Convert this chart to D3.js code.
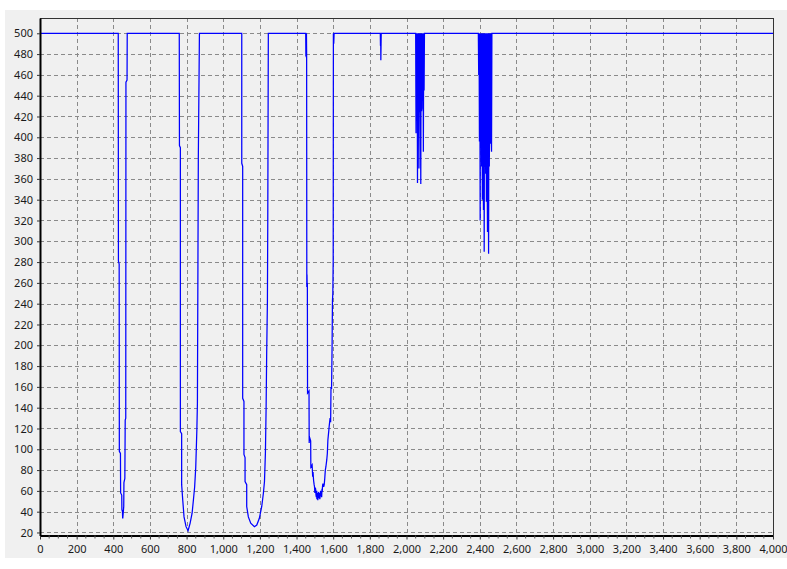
<!DOCTYPE html>
<html><head><meta charset="utf-8">
<script src="https://cdn.jsdelivr.net/npm/d3@7"></script>
<style>
html,body{margin:0;padding:0;background:#fff;}
svg{display:block;}
text{font-family:"Noto Sans","DejaVu Sans",sans-serif;font-size:11px;fill:#1a1a1a;}
</style></head>
<body>
<script>
// ---- data ----
const xValues = [
  0, 427, 428, 432, 433, 439, 440, 446, 447, 450, 451, 452, 457, 458, 463, 465, 468, 469, 475, 476,
  760, 761, 766, 766, 773, 773, 779, 786, 797, 808, 819, 830, 837, 844, 850, 856, 859, 864, 870,
  1101, 1101, 1106, 1106, 1113, 1113, 1119, 1119, 1128, 1128, 1137, 1150, 1170, 1183, 1197, 1210, 1219, 1225, 1230, 1234, 1237, 1241, 1243, 1246,
  1450, 1451, 1452, 1453, 1454, 1455, 1456, 1457, 1458, 1459,
  1460, 1468, 1469, 1470, 1477, 1478, 1485, 1488, 1490, 1493,
  1496, 1498, 1500, 1502, 1504, 1506, 1508, 1510, 1511, 1513,
  1514, 1516, 1518, 1520, 1522, 1524, 1525, 1527, 1529, 1531,
  1533, 1535, 1537, 1539, 1540, 1542, 1544, 1548, 1551, 1554,
  1557, 1560, 1565, 1568, 1571, 1576, 1578, 1583, 1586, 1588,
  1591, 1594, 1596, 1598, 1600, 1601, 1603, 1605, 1610,
  1857, 1858, 1859, 1860, 1862,
  2050, 2052, 2054, 2056, 2058, 2060, 2062, 2064, 2066, 2068, 2070, 2072, 2074, 2076, 2078, 2080, 2082, 2084, 2086, 2088, 2090, 2092, 2094, 2096, 2098,
  2392, 2394, 2396, 2398, 2400, 2402, 2404, 2406, 2408, 2410, 2412, 2414, 2416, 2418, 2420, 2422, 2424, 2426, 2428, 2430, 2432, 2434, 2436, 2438, 2440, 2442, 2444, 2446, 2448, 2450, 2452, 2454, 2456, 2458, 2460, 2462, 2464, 2466,
  4000
];
const yValues = [
  500, 500, 281, 278, 98, 96, 58, 56, 42, 40, 34, 34, 45, 68, 72, 128, 130, 453, 455, 500,
  500, 392, 390, 117, 115, 66, 51, 35, 25.6, 21.7, 28.8, 38.5, 51, 64, 83, 118.6, 144, 380, 500,
  500, 375, 372, 149, 146, 95, 92, 69, 66, 45, 35, 29, 25.6, 27.2, 33.6, 45, 57.7, 69, 96, 141, 192, 242, 320, 500,
  500, 478, 500, 477, 500, 480, 256, 268, 256, 260,
  154, 156, 106, 112, 108, 83, 85, 73.6, 78, 70,
  66, 64, 58, 63, 62, 56, 54, 60, 52, 58,
  57, 51, 56, 59, 53, 57, 58, 52, 55, 60,
  55, 59, 54, 62, 59, 65, 67, 64, 66, 72,
  80, 83, 90, 96, 109, 118, 122, 130, 126, 160,
  158, 200, 243, 250, 282, 500, 490, 500, 500,
  500, 488, 500, 474, 500,
  500, 404, 500, 424, 500, 356, 500, 426, 500, 370, 500, 424, 500, 426, 355, 500, 425, 428, 500, 442, 500, 386, 500, 445, 500,
  500, 460, 500, 396, 500, 320, 500, 398, 500, 372, 500, 340, 500, 372, 330, 500, 290, 500, 372, 500, 365, 500, 338, 500, 372, 309, 500, 372, 288, 500, 372, 500, 396, 394, 500, 398, 386, 500,
  500
];
const xTickValues = [0,200,400,600,800,1000,1200,1400,1600,1800,2000,2200,2400,2600,2800,3000,3200,3400,3600,3800,4000];
const yTickValues = [20,40,60,80,100,120,140,160,180,200,220,240,260,280,300,320,340,360,380,400,420,440,460,480,500];

const W = 787, H = 569;
const plot = {left: 40, right: 773, top: 18, bottom: 535.5};

const svg = d3.select("body").append("svg").attr("width", W).attr("height", H);
svg.append("rect").attr("x", 5).attr("y", 10).attr("width", W - 5).attr("height", 548).attr("fill", "#f0f0f0");

const x = d3.scaleLinear().domain([0, 4000]).range([plot.left, plot.right]);
const y = d3.scaleLinear().domain([17.1, 514.7]).range([plot.bottom, plot.top]);

// grid
const grid = svg.append("g").attr("stroke", "#8a8a8a").attr("stroke-width", 1).attr("stroke-dasharray", "4,3");
grid.selectAll("line.v").data(xTickValues.filter(d => d > 0 && d < 4000)).join("line")
  .attr("x1", d => Math.round(x(d)) + 0.5).attr("x2", d => Math.round(x(d)) + 0.5)
  .attr("y1", plot.top).attr("y2", plot.bottom);
grid.selectAll("line.h").data(yTickValues).join("line")
  .attr("x1", plot.left).attr("x2", plot.right)
  .attr("y1", d => Math.round(y(d)) + 0.5).attr("y2", d => Math.round(y(d)) + 0.5);

// frame top/right
svg.append("line").attr("x1", plot.left).attr("x2", plot.right + 0.5).attr("y1", plot.top + 0.5).attr("y2", plot.top + 0.5).attr("stroke", "#333");
svg.append("line").attr("x1", plot.right + 0.5).attr("x2", plot.right + 0.5).attr("y1", plot.top).attr("y2", plot.bottom).attr("stroke", "#333");

// line series
const n = Math.min(xValues.length, yValues.length);
const pts = d3.range(n).map(i => [xValues[i], yValues[i]]);
const line = d3.line().x(d => x(d[0])).y(d => y(d[1]));
svg.append("path").datum(pts).attr("d", line).attr("fill", "none")
  .attr("stroke", "#0000ff").attr("stroke-width", 1.25).attr("stroke-linejoin", "miter");

// axes
const xAxis = d3.axisBottom(x).tickValues(xTickValues).tickFormat(d3.format(",")).tickSizeInner(4).tickSizeOuter(0).tickPadding(6);
const gx = svg.append("g").attr("transform", `translate(0,${plot.bottom})`).call(xAxis);
gx.select(".domain").attr("stroke", "#000").attr("stroke-width", 2);
gx.selectAll("text").attr("fill", "#1a1a1a");
gx.selectAll(".tick line").attr("stroke", "#333");
gx.attr("font-size", null).attr("font-family", null);
// minor ticks
const minor = d3.range(0, 4001, 50).filter(d => d % 200 !== 0);
svg.append("g").selectAll("line").data(minor).join("line")
  .attr("x1", d => x(d)).attr("x2", d => x(d)).attr("y1", plot.bottom).attr("y2", plot.bottom + 3)
  .attr("stroke", "#555");

const yAxis = d3.axisLeft(y).tickValues(yTickValues).tickSizeInner(3).tickSizeOuter(0).tickPadding(4);
const gy = svg.append("g").attr("transform", `translate(${plot.left},0)`).call(yAxis);
gy.select(".domain").attr("stroke", "#000").attr("stroke-width", 2);
gy.selectAll(".tick line").attr("stroke", "#333");
gy.selectAll("text").attr("fill", "#1a1a1a");
gy.attr("font-size", null).attr("font-family", null);
</script>
</body></html>
